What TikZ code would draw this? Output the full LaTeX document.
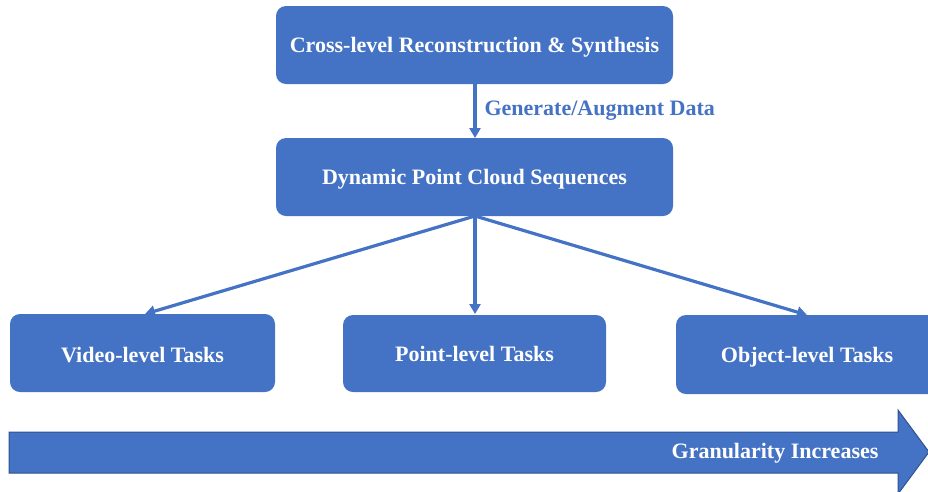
\documentclass[tikz,border=0pt]{standalone}
\usepackage{fontspec}
\setmainfont{Liberation Serif}
\usetikzlibrary{arrows.meta}
\definecolor{boxblue}{HTML}{4472C4}
\definecolor{edgeblue}{HTML}{2F528F}
\begin{document}
\begin{tikzpicture}[x=1pt,y=-1pt,
  box/.style={fill=boxblue, draw=none, rounded corners=10pt},
  txt/.style={text=white, font=\bfseries\fontsize{22}{26}\selectfont},
  conn/.style={draw=boxblue, line width=3.2pt, -{Triangle[length=10pt,width=11pt]}},
  lab/.style={text=boxblue, font=\bfseries\fontsize{22}{26}\selectfont}]
\useasboundingbox (0,0) rectangle (928,491);
\clip (0,0) rectangle (928,491);
% boxes
\path[box] (276,6) rectangle (673,84);
\node[txt] (top) at (474.5,47) {Cross-level Reconstruction \& Synthesis};
\path[box] (276,138) rectangle (673,216);
\node[txt] (mid) at (474.5,179) {Dynamic Point Cloud Sequences};
\path[box] (10,314) rectangle (275,392);
\node[txt] (video) at (142.5,355) {Video-level Tasks};
\path[box] (343,315) rectangle (606,392);
\node[txt] (point) at (474.5,354) {Point-level Tasks};
\path[box] (676,315) rectangle (940,394);
\node[txt] (object) at (807,357) {Object-level Tasks};
% connector anchors
\coordinate (topb) at (475,84);
\coordinate (midt) at (475,138);
\coordinate (midb) at (475,216);
\coordinate (vt) at (145,314);
\coordinate (pt) at (475,314);
\coordinate (ot) at (807,315);
\draw[conn] (topb) -- (midt);
\node[lab, anchor=west] (gen) at (481,111) {Generate/Augment Data};
\draw[conn] (midb) -- (vt);
\draw[conn] (midb) -- (pt);
\draw[conn] (midb) -- (ot);
% big arrow
\filldraw[fill=boxblue, draw=edgeblue, line width=1pt] (9,432) -- (898,432) -- (898,410) -- (929,452) -- (898,494) -- (898,473) -- (9,473) -- cycle;
\node[txt] (gran) at (775,453) {Granularity Increases};
\end{tikzpicture}
\end{document}
